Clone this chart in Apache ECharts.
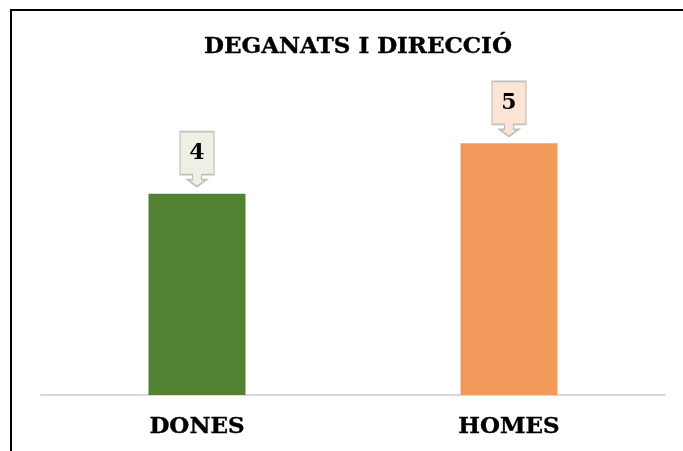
<!DOCTYPE html>
<html>
<head>
<meta charset="utf-8">
<script src="https://cdn.jsdelivr.net/npm/echarts@6/dist/echarts.min.js"></script>
<style>
html,body{margin:0;padding:0;background:#fff;}
#chart{width:683px;height:451px;}
</style>
</head>
<body>
<div id="chart"></div>
<script>
const title = 'DEGANATS I DIRECCIÓ';
const categories = ['DONES', 'HOMES'];
const values = [4, 5];

const barColors = ['#548235', '#F29A5C'];
const boxFills = ['#EEF0E4', '#FCE4D6'];
const serif = '"DejaVu Serif", "Liberation Serif", serif';

const calloutPath = 'path://M0,0 L34,0 L34,43 L21.5,43 L21.5,48 L26.5,48 L17,55 L7.5,48 L12.5,48 L12.5,43 L0,43 Z';

const chart = echarts.init(document.getElementById('chart'), null, {renderer: 'canvas'});
chart.setOption({
  animation: false,
  backgroundColor: '#fff',
  title: {
    text: title,
    left: 353,
    top: 31,
    textAlign: 'center',
    textStyle: {fontFamily: serif, fontWeight: 'bold', fontSize: 23, color: '#000',
      textBorderColor: '#000', textBorderWidth: 0.4}
  },
  graphic: [{
    type: 'rect',
    shape: {x: 11, y: 10, width: 1000, height: 1000},
    style: {fill: 'none', stroke: '#000', lineWidth: 2},
    silent: true
  }],
  grid: {left: 41, right: 18, top: 93, bottom: 56},
  xAxis: {
    type: 'category',
    data: categories,
    axisLine: {lineStyle: {color: '#d9d9d9', width: 2}},
    axisTick: {show: false},
    axisLabel: {fontFamily: serif, fontWeight: 'bold', fontSize: 23, color: '#000', margin: 21,
      textBorderColor: '#000', textBorderWidth: 0.4}
  },
  yAxis: {
    type: 'value', min: 0, max: 6, show: false,
    splitLine: {show: false}
  },
  series: [{
    type: 'bar',
    barWidth: 97,
    data: values.map((v, i) => ({value: v, itemStyle: {color: barColors[i]}})),
    markPoint: {
      symbol: calloutPath,
      symbolSize: [34, 55],
      symbolOffset: [0, -34.5],
      symbolKeepAspect: false,
      data: values.map((v, i) => ({
        coord: [i, v],
        value: v,
        itemStyle: {color: boxFills[i], borderColor: '#c0c0c0', borderWidth: 1.5}
      })),
      label: {
        show: true,
        position: 'inside',
        offset: [0, -6],
        fontFamily: serif,
        fontWeight: 'bold',
        fontSize: 22,
        color: '#000',
        formatter: p => String(p.value)
      }
    }
  }]
});
</script>
</body>
</html>
